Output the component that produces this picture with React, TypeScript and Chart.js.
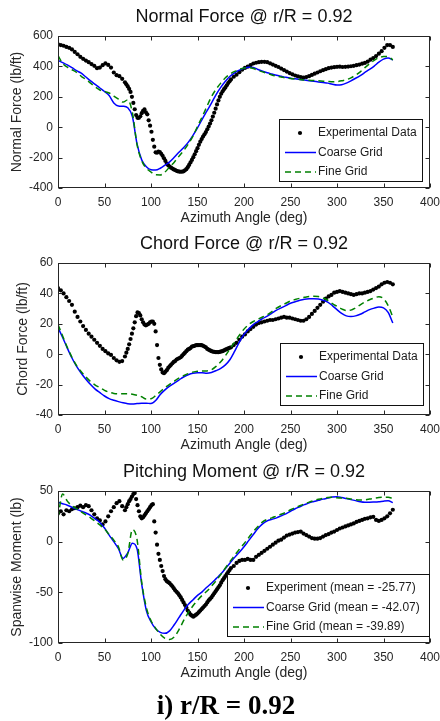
import React, { useEffect, useRef } from "react";
import { Chart, registerables } from "chart.js";

Chart.register(...registerables);

const FONT = '"Liberation Sans", Arial, Helvetica, sans-serif';

// Azimuth stations of the measured data (deg); finer through the stall region
const EXP_AZIMUTH = [
  0, 3, 6, 9, 12, 15, 18, 21, 24, 27, 30, 33, 36, 39, 42, 45, 48, 51, 54, 57,
  60, 63, 66, 69, 72,
  73.5, 75, 76.5, 78, 79.5, 81, 82.5, 84,
  85.5, 87, 88.5, 90, 91.5, 93, 94.5, 96,
  97.5, 99, 100.5, 102, 103.5, 105, 106.5, 108,
  109.5, 111, 112.5, 114, 115.5, 117, 118.5, 120,
  121.5, 123, 124.5, 126, 127.5, 129, 130.5, 132,
  133.5, 135, 136.5, 138, 139.5, 141, 142.5, 144,
  145.5, 147, 148.5, 150, 151.5, 153, 154.5, 156,
  157.5, 159, 160.5, 162, 163.5, 165, 166.5, 168,
  169.5, 171, 172.5, 174, 175.5, 177, 178.5, 180,
  181.5, 183, 184.5, 186,
  189, 192, 195, 198, 201, 204, 207, 210, 213, 216, 219, 222, 225, 228, 231, 234, 237, 240, 243, 246,
  249, 252, 255, 258, 261, 264, 267, 270, 273, 276, 279, 282, 285, 288, 291, 294, 297, 300, 303, 306,
  309, 312, 315, 318, 321, 324, 327, 330, 333, 336, 339, 342, 345, 348, 351, 354, 357, 360,
];

// Azimuth stations of the CFD results (deg)
const CFD_AZIMUTH = [
  0, 5, 10, 15, 20, 25, 30, 35, 40, 45, 50, 55, 60, 65, 70, 75, 80, 85, 90, 95,
  100, 105, 110, 115, 120, 125, 130, 135, 140, 145, 150, 155, 160, 165, 170, 175, 180, 185, 190, 195,
  200, 205, 210, 215, 220, 225, 230, 235, 240, 245, 250, 255, 260, 265, 270, 275, 280, 285, 290, 295,
  300, 305, 310, 315, 320, 325, 330, 335, 340, 345, 350, 355, 360,
];

// Normal force (lb/ft)
const normalExp = [
  545, 540, 536, 528, 522, 512, 495, 480, 463, 450, 438, 428, 415, 404, 388, 392, 408, 420, 410, 392,
  360, 342, 336, 318, 295,
  282, 268, 252, 232, 200, 160, 118, 80,
  62, 62, 72, 92, 108, 117, 98, 85,
  45, 10, -30, -83, -128, -165, -168, -160,
  -163, -175, -188, -205, -222, -240, -250, -260,
  -266, -272, -278, -282, -287, -290, -292, -293,
  -292, -290, -284, -276, -263, -248, -232, -215,
  -197, -178, -158, -138, -116, -95, -78, -62,
  -47, -32, -14, 4, 24, 45, 70, 95,
  122, 150, 176, 200, 220, 236, 250, 262,
  276, 290, 302, 314,
  332, 345, 362, 378, 390, 398, 408, 419, 424, 428, 430, 430, 428, 420, 412, 404, 396, 386, 376, 366,
  356, 348, 340, 334, 330, 327, 330, 336, 344, 352, 360, 368, 375, 382, 388, 392, 395, 397, 398, 396,
  397, 399, 401, 404, 408, 412, 418, 423, 432, 444, 455, 468, 484, 500, 522, 540, 540, 528,
];
const normalCoarse = [
  440, 425, 410, 392, 372, 355, 330, 305, 282, 258, 235, 208, 160, 140, 138, 128, 70, -110, -215, -260,
  -280, -282, -270, -250, -228, -198, -165, -135, -100, -55, -5, 52, 105, 158, 215, 262, 302, 335, 358, 375,
  388, 395, 393, 380, 368, 358, 350, 342, 335, 328, 322, 318, 314, 310, 306, 302, 298, 294, 290, 283,
  278, 280, 290, 305, 322, 340, 360, 380, 402, 428, 448, 456, 442,
];
const normalFine = [
  470, 420, 395, 378, 360, 335, 315, 290, 265, 245, 235, 225, 205, 185, 165, 180, 95, -115, -220, -270,
  -295, -313, -314, -295, -262, -230, -192, -155, -112, -60, 5, 68, 135, 200, 250, 290, 325, 350, 367, 380,
  390, 392, 386, 374, 364, 354, 344, 336, 330, 324, 320, 317, 314, 311, 309, 307, 305, 303, 301, 299,
  300, 305, 312, 325, 342, 364, 392, 418, 440, 457, 465, 465, 442,
];

// Chord force (lb/ft)
const chordExp = [
  43.5, 42, 40, 37.5, 35, 32.5, 28, 24.5, 21.5, 18.5, 16, 13.5, 11.5, 9.5, 7.5, 5.5, 3.5, 2, 0.5, -0.5,
  -2.5, -4, -5, -4.5, -1.5,
  1, 3.5, 6.5, 10, 13.5, 17, 21, 25,
  27.5, 27, 25.5, 23, 21, 19.5, 19, 19.5,
  20, 21, 21.5, 21.5, 20, 15, 6, -2.5,
  -7, -10, -12, -12.5, -11.5, -10.5, -9, -8,
  -7, -6, -5, -4.5, -3.5, -3, -2.5, -2,
  -1, 0, 1, 2, 3, 3.5, 4, 5,
  5.3, 5.5, 6, 6, 6, 6, 6, 5.5,
  5, 4.5, 3.5, 3, 2.5, 2, 1.7, 1.5,
  1.4, 1.3, 1.3, 1.5, 1.8, 2, 2.5, 3,
  3.3, 3.8, 4.2, 4.5,
  6, 7.5, 9.5, 11.5, 13, 15, 16.5, 18, 19.5, 20.5, 21, 21.5, 22, 22.5, 22.5, 23, 23.5, 24, 24.5, 24,
  24, 23.5, 23, 22.5, 22, 22, 23, 24.5, 26.5, 28.5, 30.5, 32.5, 34.5, 36.5, 38, 39, 40.5, 41, 41.5, 41,
  40.5, 40, 39.5, 39, 39.5, 40, 40, 40.5, 41, 41.5, 42.5, 43.5, 44.5, 46, 47, 47.5, 47, 46,
];
const chordCoarse = [
  17.5, 11, 4, -2.5, -8, -12.5, -16.5, -20, -23, -25.3, -27.5, -29.2, -30.3, -31.2, -32, -32.6, -32.8, -32.5, -32.2, -32.2,
  -32.5, -30.5, -26.5, -23.5, -21, -19, -17, -15, -13.5, -12.5, -12.2, -12.2, -12.5, -12, -10.8, -9.3, -7, -3.5, 2, 8,
  13, 16.5, 19.5, 21.5, 23.5, 25, 27, 29, 30.5, 32, 33.5, 34.5, 35.5, 36.2, 36.5, 36.5, 36.3, 35.5, 34.3, 32,
  29.3, 26.8, 25.2, 24.8, 25.2, 26.3, 27.8, 29.3, 30.3, 31, 30.5, 27.5, 20.5,
];
const chordFine = [
  19.5, 12, 4.5, -2, -7.5, -11.5, -15, -18, -20.3, -22, -23.8, -25, -25.8, -26, -26, -26, -26.3, -27, -28, -29.5,
  -29.3, -27.3, -24.6, -22, -19.8, -17.8, -15.8, -14.2, -12.8, -11.8, -11.2, -11, -11, -10.3, -8, -5, -1, 3.5, 8, 12.5,
  16.5, 19.5, 21.5, 23, 24.5, 26, 28, 30.3, 32, 33.5, 35, 36, 36.8, 37.4, 37.9, 38.1, 37.9, 37, 35.5, 33.3,
  31.5, 29.8, 28.8, 29, 30.5, 32.5, 34.3, 35.8, 37, 37.8, 36.5, 32, 24.5,
];

// Spanwise pitching moment (lb)
const momentExp = [
  28, 30, 27, 31, 30, 32, 33, 34, 35.5, 34, 36, 35, 31, 27, 23, 21, 17, 20, 25, 30,
  34, 38, 40, 35, 31,
  34, 37, 40, 42, 44.5, 47, 48, 42,
  36, 30, 25, 23, 24, 26, 28, 30,
  32, 34, 36, 37, 20, 9, -3, -12,
  -18, -24, -29, -34, -37, -39, -40, -41,
  -42.5, -44, -46, -48, -49.5, -51, -53, -55,
  -57.5, -60, -62.5, -65, -68, -70, -72, -73,
  -74, -73, -72, -71, -69.5, -68, -66.5, -65,
  -63.5, -62, -60, -58, -56.5, -55, -53, -51,
  -49, -47, -45, -43, -40.5, -38, -36, -34,
  -32, -30, -28, -26,
  -24, -21, -19, -18, -18, -17, -18, -18, -15, -13, -11, -9, -7, -5, -3, -1, 1, 2, 4, 6,
  7, 8, 9, 9.5, 10, 8, 6.5, 5, 3.5, 3, 3, 3.5, 5, 6.5, 7.5, 9, 10, 11.5, 13, 14,
  15, 16, 17, 18, 19.5, 20.5, 21.5, 22.5, 23, 24, 24.5, 21.5, 20.5, 21.5, 23, 25, 28, 31.5,
];
const momentCoarse = [
  39, 37.5, 36, 34, 32, 30, 28.3, 26, 22.5, 19, 13.5, 6.5, 0, -7, -16.5, -11, -1.5, -7, -42, -68,
  -79, -86, -89.5, -90.5, -88, -82, -75, -68, -62, -57.5, -53, -49.5, -45, -41, -36.5, -32, -26.5, -21, -15.5, -10.5,
  -5, 1, 7, 13, 17.5, 20.5, 22, 23.5, 25.5, 27.5, 30, 32.5, 34.5, 36.5, 38.3, 39.6, 40.8, 42, 43, 44,
  44.3, 43.5, 42.5, 41.5, 40.5, 39.5, 39, 39, 39.2, 39.5, 40, 40.3, 38.5,
];
const momentFine = [
  24, 47, 40, 35.5, 32.5, 29.5, 26.5, 23.5, 20, 16.5, 12.5, 7, 1.5, -5, -18, -12, 12, 2, -40, -65,
  -78, -85.5, -91.5, -95.5, -96.5, -94, -87, -78, -70, -63.5, -58, -53, -49, -44, -38.5, -32.5, -26, -19.5, -13.5, -7.5,
  -2, 4, 10, 15, 19.5, 22, 23.5, 25.3, 27, 29, 31.5, 33.5, 35.5, 37.3, 39, 40.5, 41.8, 42.8, 43.5, 43.8,
  43.3, 43, 42.8, 42, 41.3, 41, 41.3, 42, 42.8, 43.5, 43.8, 43.8, 42.5,
];

type PanelSpec = {
  title: string;
  yTitle: string;
  yMin: number;
  yMax: number;
  yStep: number;
  yTitlePad: number;
  exp: number[];
  coarse: number[];
  fine: number[];
  labels: [string, string, string];
  legend: { width: number; right: number; bottom: number };
};

const PANELS: PanelSpec[] = [
  {
    title: "Normal Force @ r/R = 0.92",
    yTitle: "Normal Force (lb/ft)",
    yMin: -400,
    yMax: 600,
    yStep: 200,
    yTitlePad: 9,
    exp: normalExp,
    coarse: normalCoarse,
    fine: normalFine,
    labels: ["Experimental Data", "Coarse Grid", "Fine Grid"],
    legend: { width: 144, right: 7, bottom: 6 },
  },
  {
    title: "Chord Force @ r/R = 0.92",
    yTitle: "Chord Force (lb/ft)",
    yMin: -40,
    yMax: 60,
    yStep: 20,
    yTitlePad: 15,
    exp: chordExp,
    coarse: chordCoarse,
    fine: chordFine,
    labels: ["Experimental Data", "Coarse Grid", "Fine Grid"],
    legend: { width: 144, right: 6, bottom: 9 },
  },
  {
    title: "Pitching Moment @ r/R = 0.92",
    yTitle: "Spanwise Moment (lb)",
    yMin: -100,
    yMax: 50,
    yStep: 50,
    yTitlePad: 9,
    exp: momentExp,
    coarse: momentCoarse,
    fine: momentFine,
    labels: [
      "Experiment (mean = -25.77)",
      "Coarse Grid (mean = -42.07)",
      "Fine Grid (mean = -39.89)",
    ],
    legend: { width: 203, right: 0, bottom: 6 },
  },
];

const PANEL_TOPS = [0, 227, 455];

const pairs = (xs: number[], ys: number[]) => xs.map((x, i) => ({ x, y: ys[i] }));

// Box around the axes with inward tick marks on all four sides
const framePlugin = {
  id: "panelFrame",
  afterDatasetsDraw(chart: any) {
    const { ctx, chartArea: a, scales } = chart;
    const L = Math.round(a.left) + 0.5;
    const R = Math.round(a.right) - 0.5;
    const T = Math.round(a.top) + 0.5;
    const B = Math.round(a.bottom) - 0.5;
    const len = 4;
    ctx.save();
    ctx.strokeStyle = "#262626";
    ctx.lineWidth = 1;
    ctx.strokeRect(L, T, R - L, B - T);
    ctx.beginPath();
    scales.x.ticks.forEach((t: any) => {
      const px = Math.round(scales.x.getPixelForValue(t.value)) + 0.5;
      ctx.moveTo(px, B);
      ctx.lineTo(px, B - len);
      ctx.moveTo(px, T);
      ctx.lineTo(px, T + len);
    });
    scales.y.ticks.forEach((t: any) => {
      const py = Math.round(scales.y.getPixelForValue(t.value)) + 0.5;
      ctx.moveTo(L, py);
      ctx.lineTo(L + len, py);
      ctx.moveTo(R, py);
      ctx.lineTo(R - len, py);
    });
    ctx.stroke();
    ctx.restore();
  },
};

// Panel heading centred over the plotting area
const titlePlugin = {
  id: "panelTitle",
  afterDraw(chart: any, _args: any, opts: any) {
    const { ctx, chartArea: a } = chart;
    ctx.save();
    ctx.font = `18px ${FONT}`;
    ctx.fillStyle = "#111";
    ctx.textAlign = "center";
    ctx.textBaseline = "middle";
    ctx.fillText(opts.text, (a.left + a.right) / 2, opts.y);
    ctx.restore();
  },
};

// Boxed legend placed in the lower-right corner of the axes
const legendPlugin = {
  id: "panelLegend",
  afterDraw(chart: any, _args: any, opts: any) {
    const { ctx, chartArea: a } = chart;
    const w = opts.width;
    const h = 63;
    const x = Math.round(a.right - opts.right - w);
    const y = Math.round(a.bottom - opts.bottom - h);
    ctx.save();
    ctx.fillStyle = "#fff";
    ctx.fillRect(x, y, w, h);
    ctx.strokeStyle = "#111";
    ctx.lineWidth = 1;
    ctx.strokeRect(x + 0.5, y + 0.5, w - 1, h - 1);
    ctx.font = `12px ${FONT}`;
    ctx.textBaseline = "middle";
    ctx.textAlign = "left";
    chart.data.datasets.forEach((ds: any, i: number) => {
      const ry = y + 14 + i * 19.5;
      if (ds.showLine === false) {
        ctx.fillStyle = ds.pointBackgroundColor;
        ctx.beginPath();
        ctx.arc(x + 21, ry, ds.pointRadius, 0, Math.PI * 2);
        ctx.fill();
      } else {
        ctx.strokeStyle = ds.borderColor;
        ctx.lineWidth = ds.borderWidth;
        ctx.setLineDash(ds.borderDash || []);
        ctx.beginPath();
        ctx.moveTo(x + 6, ry);
        ctx.lineTo(x + 37, ry);
        ctx.stroke();
        ctx.setLineDash([]);
      }
      ctx.fillStyle = "#1a1a1a";
      ctx.fillText(ds.label, x + 39, ry);
    });
    ctx.restore();
  },
};

function buildConfig(spec: PanelSpec): any {
  const tickFont = { family: FONT, size: 12 };
  const titleFont = { family: FONT, size: 14 };
  return {
    type: "line",
    data: {
      datasets: [
        {
          label: spec.labels[0],
          data: pairs(EXP_AZIMUTH, spec.exp),
          showLine: false,
          pointRadius: 2.1,
          pointBackgroundColor: "#000",
          pointBorderWidth: 0,
          borderColor: "#000",
          order: 2,
        },
        {
          label: spec.labels[1],
          data: pairs(CFD_AZIMUTH, spec.coarse),
          borderColor: "#0000ff",
          borderWidth: 1.5,
          pointRadius: 0,
          cubicInterpolationMode: "monotone",
          fill: false,
          order: 1,
        },
        {
          label: spec.labels[2],
          data: pairs(CFD_AZIMUTH, spec.fine),
          borderColor: "#008000",
          borderWidth: 1.5,
          borderDash: [6, 4],
          pointRadius: 0,
          cubicInterpolationMode: "monotone",
          fill: false,
          order: 0,
        },
      ],
    },
    options: {
      responsive: false,
      animation: false,
      events: [],
      layout: { padding: { top: 36, right: 10, left: 0, bottom: 0 } },
      plugins: {
        legend: { display: false },
        tooltip: { enabled: false },
        title: { display: false },
        panelTitle: { text: spec.title, y: 17.5 },
        panelLegend: spec.legend,
      },
      scales: {
        x: {
          type: "linear",
          min: 0,
          max: 400,
          grid: { display: false, drawTicks: false },
          border: { display: false },
          ticks: { stepSize: 50, padding: 7, font: tickFont, color: "#262626", maxRotation: 0, autoSkip: false },
          title: {
            display: true,
            text: "Azimuth Angle (deg)",
            font: titleFont,
            color: "#262626",
            padding: { top: 0, bottom: 1.6 },
          },
          afterFit: (s: any) => {
            s.height = 40;
            s.paddingLeft = 0;
            s.paddingRight = 0;
          },
        },
        y: {
          type: "linear",
          min: spec.yMin,
          max: spec.yMax,
          grid: { display: false, drawTicks: false },
          border: { display: false },
          ticks: { stepSize: spec.yStep, padding: 5, font: tickFont, color: "#262626", autoSkip: false },
          title: {
            display: true,
            text: spec.yTitle,
            font: titleFont,
            color: "#262626",
            padding: { top: spec.yTitlePad, bottom: 0 },
          },
          afterFit: (s: any) => {
            s.width = 58;
            s.paddingTop = 0;
            s.paddingBottom = 0;
          },
        },
      },
    },
    plugins: [framePlugin, titlePlugin, legendPlugin],
  };
}

function Panel({ spec, top }: { spec: PanelSpec; top: number }) {
  const ref = useRef<HTMLCanvasElement>(null);
  useEffect(() => {
    if (!ref.current) return;
    const chart = new Chart(ref.current, buildConfig(spec));
    return () => chart.destroy();
  }, [spec]);
  return (
    <div style={{ position: "absolute", left: 0, top, width: 440, height: 228 }}>
      <canvas ref={ref} width={440} height={228} style={{ display: "block", width: 440, height: 228 }} />
    </div>
  );
}

export default function App() {
  return (
    <div
      style={{
        position: "absolute",
        left: 0,
        top: 0,
        width: 440,
        height: 721,
        background: "#fff",
        overflow: "hidden",
      }}
    >
      {PANELS.map((p, i) => (
        <Panel key={p.title} spec={p} top={PANEL_TOPS[i]} />
      ))}
      <div
        style={{
          position: "absolute",
          left: 0,
          top: 692,
          width: 452,
          textAlign: "center",
          fontFamily: '"Liberation Serif", "Times New Roman", serif',
          fontWeight: "bold",
          fontSize: 27,
          lineHeight: "27px",
          color: "#000",
        }}
      >
        i) r/R = 0.92
      </div>
    </div>
  );
}
